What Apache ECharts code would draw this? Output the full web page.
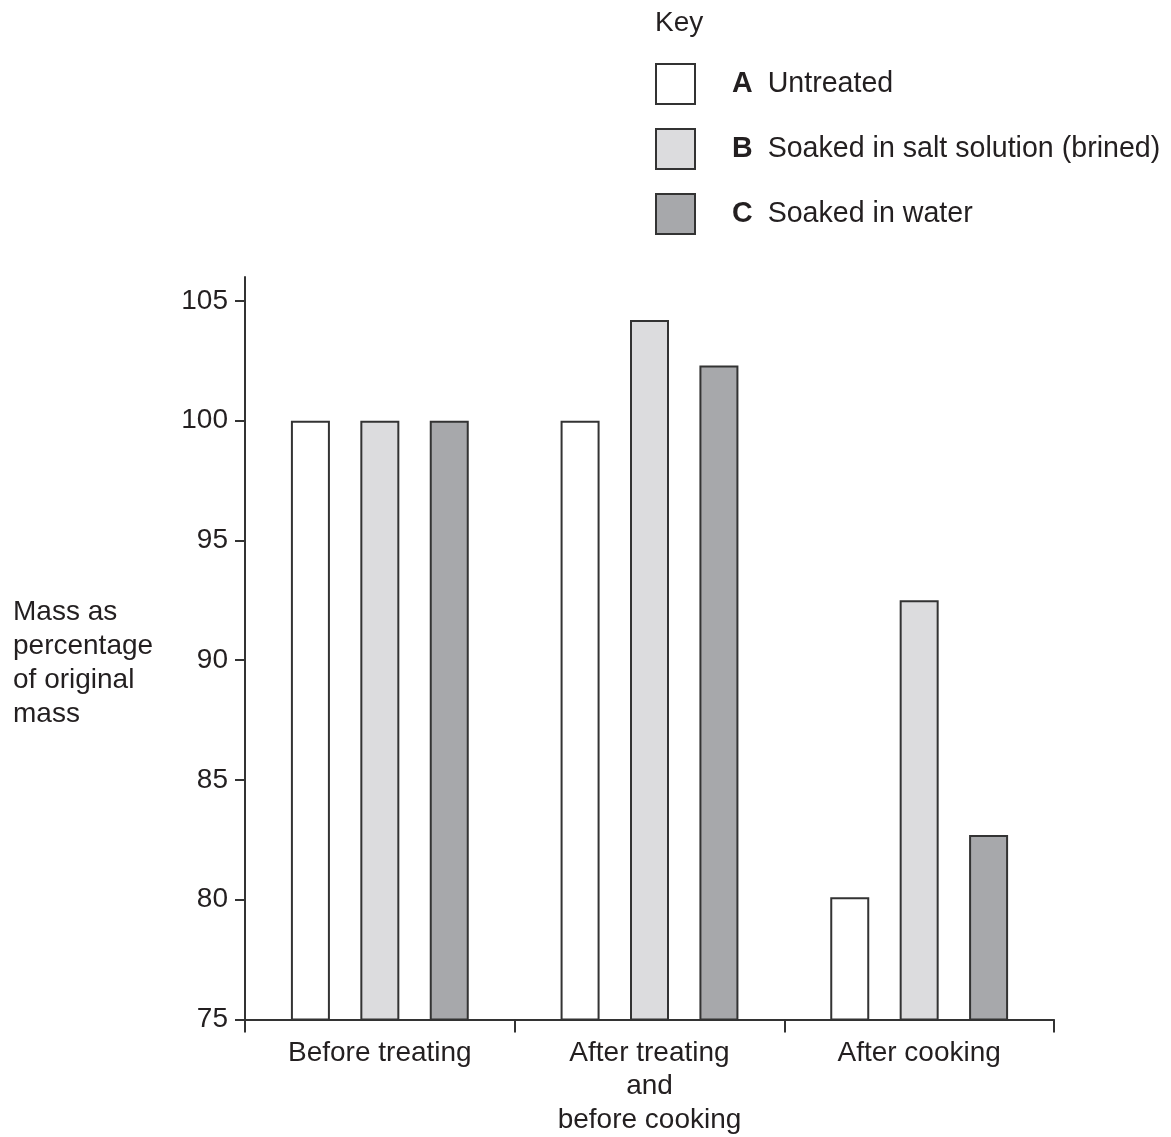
<!DOCTYPE html>
<html>
<head>
<meta charset="utf-8">
<script src="https://cdn.jsdelivr.net/npm/echarts@6/dist/echarts.min.js"></script>
<style>
html,body{margin:0;padding:0;background:#fff;}
#chart{width:1171px;height:1137px;}
</style>
</head>
<body>
<div id="chart"></div>
<script>
const categories = ['Before treating', 'After treating\nand\nbefore cooking', 'After cooking'];
const seriesLetters = ['A', 'B', 'C'];
const seriesLabels = ['Untreated', 'Soaked in salt solution (brined)', 'Soaked in water'];
const seriesColors = ['#ffffff', '#dcdcde', '#a7a8ab'];
const valuesA = [100, 100, 80.1];
const valuesB = [100, 104.2, 92.5];
const valuesC = [100, 102.3, 82.7];
const yTicks = [75, 80, 85, 90, 95, 100, 105];
const yAxisTitle = 'Mass as\npercentage\nof original\nmass';
const keyTitle = 'Key';

const allValues = [valuesA, valuesB, valuesC];
const FONT = 'Liberation Sans, Arial, sans-serif';
const INK = '#231f20';
const LINE = '#333333';

const chart = echarts.init(document.getElementById('chart'), null, {renderer: 'canvas'});

const series = allValues.map((vals, i) => ({
  name: seriesLetters[i] + ' ' + seriesLabels[i],
  type: 'bar',
  data: vals,
  barWidth: 39,
  barGap: '78%',
  itemStyle: {color: seriesColors[i], borderColor: LINE, borderWidth: 2},
  emphasis: {disabled: true},
  animation: false
}));

chart.setOption({
  animation: false,
  backgroundColor: '#ffffff',
  textStyle: {fontFamily: FONT, color: INK},
  title: [
    {
      text: keyTitle,
      left: 650,
      top: 4,
      textStyle: {fontFamily: FONT, fontSize: 28, fontWeight: 'normal', color: INK}
    },
    {
      text: yAxisTitle,
      left: 13,
      top: 595,
      padding: 0,
      textStyle: {fontFamily: FONT, fontSize: 28, fontWeight: 'normal', color: INK, lineHeight: 34}
    }
  ],
  legend: {
    orient: 'vertical',
    left: 655,
    top: 63,
    padding: 0,
    itemWidth: 39,
    itemHeight: 40,
    itemGap: 23,
    icon: 'rect',
    selectedMode: false,
    data: series.map((s, i) => ({
      name: s.name,
      itemStyle: {color: seriesColors[i], borderColor: LINE, borderWidth: 2}
    })),
    formatter: function (name) {
      const i = series.findIndex(s => s.name === name);
      return '{l|' + seriesLetters[i] + '}{t|' + seriesLabels[i] + '}';
    },
    textStyle: {
      fontFamily: FONT,
      fontSize: 28.6,
      lineHeight: 40,
      color: INK,
      rich: {
        l: {fontFamily: FONT, fontSize: 28.6, lineHeight: 40, fontWeight: 'bold', color: INK, padding: [0, 0, 0, 32]},
        t: {fontFamily: FONT, fontSize: 28.6, lineHeight: 40, color: INK, padding: [0, 0, 0, 15]}
      }
    }
  },
  grid: {left: 245, right: 117, top: 277, bottom: 113, containLabel: false},
  xAxis: {
    type: 'category',
    data: categories,
    boundaryGap: true,
    axisLine: {show: true, lineStyle: {color: LINE, width: 2}},
    axisTick: {show: true, length: 13, alignWithLabel: false, lineStyle: {color: LINE, width: 2}},
    axisLabel: {
      fontFamily: FONT, fontSize: 28, color: INK, margin: 17, lineHeight: 33.5, align: 'center'
    },
    splitLine: {show: false}
  },
  yAxis: {
    type: 'value',
    min: 75,
    max: 106,
    interval: 5,
    axisLine: {show: true, lineStyle: {color: LINE, width: 2}},
    axisTick: {show: true, length: 10, customValues: yTicks, lineStyle: {color: LINE, width: 2}},
    axisLabel: {
      fontFamily: FONT, fontSize: 28, color: INK, margin: 17, customValues: yTicks
    },
    splitLine: {show: false}
  },
  series: series
});
</script>
</body>
</html>
